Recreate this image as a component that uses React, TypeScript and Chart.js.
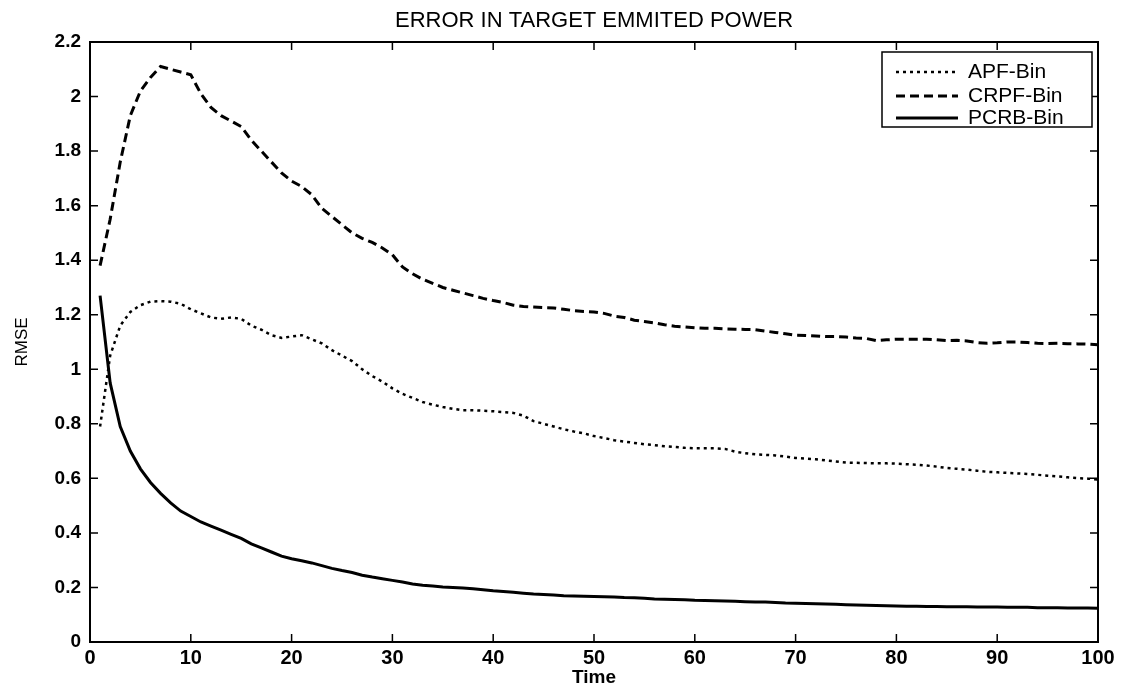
import React, { useEffect, useRef } from "react";
import { Chart, registerables } from "chart.js";

Chart.register(...registerables);

const TITLE = "ERROR IN TARGET EMMITED POWER";
const X_LABEL = "Time";
const Y_LABEL = "RMSE";
const xTicks = [0, 10, 20, 30, 40, 50, 60, 70, 80, 90, 100];
const yTicks = [0, 0.2, 0.4, 0.6, 0.8, 1, 1.2, 1.4, 1.6, 1.8, 2, 2.2];
const seriesLabels = ["APF-Bin", "CRPF-Bin", "PCRB-Bin"];

const times = Array.from({ length: 100 }, (_, i) => i + 1);

const apf = [
  0.79, 1.05, 1.16, 1.21, 1.235, 1.248, 1.25, 1.248, 1.24, 1.22,
  1.205, 1.19, 1.185, 1.19, 1.185, 1.16, 1.145, 1.125, 1.115, 1.12,
  1.125, 1.11, 1.095, 1.07, 1.05, 1.03, 1.0, 0.975, 0.955, 0.93,
  0.91, 0.895, 0.88, 0.87, 0.862, 0.855, 0.85, 0.85, 0.848, 0.846,
  0.843, 0.84, 0.83, 0.81, 0.8, 0.79, 0.78, 0.772, 0.765, 0.755,
  0.748, 0.74, 0.735, 0.73, 0.725, 0.722, 0.718, 0.715, 0.712, 0.71,
  0.71, 0.71, 0.708, 0.698, 0.692, 0.688, 0.686, 0.684, 0.68, 0.675,
  0.672, 0.67, 0.666, 0.662, 0.658, 0.657, 0.656, 0.655, 0.655, 0.654,
  0.652, 0.65, 0.647, 0.643, 0.638, 0.635, 0.632, 0.628, 0.624, 0.622,
  0.62, 0.618, 0.616, 0.613, 0.61, 0.607, 0.604, 0.601, 0.599, 0.596,
];

const crpf = [
  1.38, 1.55, 1.76, 1.93, 2.02, 2.07, 2.11, 2.1, 2.09, 2.08,
  2.01, 1.96, 1.93, 1.91, 1.89, 1.84, 1.8, 1.76, 1.72, 1.69,
  1.67, 1.64, 1.59, 1.56, 1.53, 1.5, 1.48, 1.465, 1.445, 1.42,
  1.375, 1.35, 1.33, 1.315, 1.3, 1.29, 1.28, 1.27, 1.26, 1.252,
  1.245, 1.235, 1.23, 1.228, 1.226, 1.225, 1.22, 1.215, 1.212, 1.21,
  1.205, 1.195, 1.19, 1.18, 1.175, 1.17, 1.163, 1.158, 1.155, 1.152,
  1.15, 1.15, 1.148, 1.147, 1.146, 1.145, 1.14, 1.135, 1.13, 1.125,
  1.124, 1.122, 1.12, 1.12, 1.118, 1.115, 1.113, 1.105, 1.108, 1.11,
  1.11, 1.11, 1.11, 1.108, 1.105, 1.106, 1.104, 1.098, 1.095, 1.097,
  1.1, 1.1, 1.098, 1.095, 1.094, 1.095, 1.094, 1.093, 1.092, 1.09,
];

const pcrb = [
  1.27, 0.95, 0.79, 0.7, 0.635, 0.585, 0.545, 0.51, 0.48, 0.46,
  0.44, 0.425, 0.41, 0.395, 0.38, 0.36, 0.345, 0.33, 0.315, 0.305,
  0.298, 0.29, 0.28, 0.27, 0.262, 0.255, 0.245, 0.238, 0.232, 0.226,
  0.22, 0.213, 0.208, 0.205, 0.202, 0.2, 0.198, 0.195, 0.192, 0.188,
  0.185, 0.182, 0.179, 0.176, 0.174, 0.172, 0.17, 0.169, 0.168, 0.167,
  0.166, 0.165, 0.163, 0.162, 0.16, 0.158, 0.157, 0.156, 0.155, 0.153,
  0.152, 0.151, 0.15, 0.149, 0.148, 0.147, 0.147, 0.145, 0.143, 0.142,
  0.141, 0.14, 0.139, 0.138, 0.137, 0.136, 0.135, 0.134, 0.133, 0.132,
  0.131, 0.131, 0.13, 0.13, 0.129, 0.129, 0.129, 0.128, 0.128, 0.128,
  0.127, 0.127, 0.127, 0.126, 0.126, 0.126, 0.125, 0.125, 0.125, 0.124,
];

const FONT = "'Liberation Sans', Arial, Helvetica, sans-serif";

const boxPlugin = {
  id: "matlabBox",
  afterDatasetsDraw(chart: any) {
    const { ctx, chartArea, scales } = chart;
    const { left, right, top, bottom } = chartArea;
    ctx.save();
    ctx.strokeStyle = "#000";
    ctx.lineWidth = 2;
    ctx.strokeRect(left, top, right - left, bottom - top);
    const tl = 8;
    ctx.lineWidth = 1.5;
    ctx.beginPath();
    for (const v of xTicks) {
      const px = scales.x.getPixelForValue(v);
      ctx.moveTo(px, bottom);
      ctx.lineTo(px, bottom - tl);
      ctx.moveTo(px, top);
      ctx.lineTo(px, top + tl);
    }
    for (const v of yTicks) {
      const py = scales.y.getPixelForValue(v);
      ctx.moveTo(left, py);
      ctx.lineTo(left + tl, py);
      ctx.moveTo(right, py);
      ctx.lineTo(right - tl, py);
    }
    ctx.stroke();

    // legend box inside the axes, top-right
    const bw = 210;
    const bh = 75;
    const bx = right - 6 - bw;
    const by = top + 10;
    ctx.fillStyle = "#fff";
    ctx.fillRect(bx, by, bw, bh);
    ctx.lineWidth = 1.5;
    ctx.strokeRect(bx, by, bw, bh);
    const rowsY = [by + 20, by + 44, by + 66];
    ctx.font = `21px ${FONT}`;
    ctx.textBaseline = "middle";
    ctx.textAlign = "left";
    chart.data.datasets.forEach((ds: any, i: number) => {
      const y = rowsY[i];
      ctx.save();
      ctx.strokeStyle = ds.borderColor;
      ctx.lineWidth = ds.borderWidth;
      ctx.setLineDash(ds.borderDash || []);
      ctx.beginPath();
      ctx.moveTo(bx + 14, y);
      ctx.lineTo(bx + 76, y);
      ctx.stroke();
      ctx.restore();
      ctx.fillStyle = "#000";
      ctx.fillText(ds.label, bx + 86, y);
    });
    ctx.restore();
  },
};

export default function App() {
  const canvasRef = useRef<HTMLCanvasElement | null>(null);

  useEffect(() => {
    if (!canvasRef.current) return;
    const toXY = (arr: number[]) => times.map((t, i) => ({ x: t, y: arr[i] }));
    const chart = new Chart(canvasRef.current, {
      type: "line",
      data: {
        datasets: [
          {
            label: seriesLabels[0],
            data: toXY(apf),
            borderColor: "#000",
            borderWidth: 2.5,
            borderDash: [3, 4],
            pointRadius: 0,
            tension: 0,
          },
          {
            label: seriesLabels[1],
            data: toXY(crpf),
            borderColor: "#000",
            borderWidth: 3,
            borderDash: [9, 5],
            pointRadius: 0,
            tension: 0,
          },
          {
            label: seriesLabels[2],
            data: toXY(pcrb),
            borderColor: "#000",
            borderWidth: 3,
            pointRadius: 0,
            tension: 0,
          },
        ],
      },
      options: {
        animation: false,
        responsive: false,
        maintainAspectRatio: false,
        layout: { padding: { left: 0, right: 26, top: 0, bottom: 0 } },
        plugins: {
          legend: { display: false },
          tooltip: { enabled: false },
          title: {
            display: true,
            text: TITLE,
            fullSize: false,
            color: "#000",
            font: { family: FONT, size: 22, weight: "normal", lineHeight: 1.2 },
            padding: { top: 8, bottom: 7.6 },
          },
        },
        scales: {
          x: {
            type: "linear",
            min: 0,
            max: 100,
            grid: { display: false, drawTicks: false },
            border: { display: false },
            afterBuildTicks: (s: any) => {
              s.ticks = xTicks.map((v) => ({ value: v }));
            },
            afterFit: (s: any) => {
              s.height = 47;
            },
            ticks: {
              color: "#000",
              padding: 4,
              maxRotation: 0,
              autoSkip: false,
              font: { family: FONT, size: 20, weight: "bold" },
              callback: (v: any) => String(v),
            },
            title: {
              display: true,
              text: X_LABEL,
              color: "#000",
              font: { family: FONT, size: 19, weight: "bold", lineHeight: 1.2 },
              padding: { top: 0, bottom: 0 },
            },
          },
          y: {
            type: "linear",
            min: 0,
            max: 2.2,
            grid: { display: false, drawTicks: false },
            border: { display: false },
            afterBuildTicks: (s: any) => {
              s.ticks = yTicks.map((v) => ({ value: v }));
            },
            afterFit: (s: any) => {
              s.width = 90;
            },
            ticks: {
              color: "#000",
              padding: 9,
              autoSkip: false,
              font: { family: FONT, size: 19, weight: "bold" },
              callback: (v: any) => String(Math.round(Number(v) * 10) / 10),
            },
            title: {
              display: true,
              text: Y_LABEL,
              color: "#000",
              font: { family: FONT, size: 17, weight: "normal", lineHeight: 1.2 },
              padding: { top: 12, bottom: 0 },
            },
          },
        },
      },
      plugins: [boxPlugin],
    } as any);
    return () => chart.destroy();
  }, []);

  return (
    <div style={{ position: "absolute", left: 0, top: 0, width: 1124, height: 689, background: "#fff" }}>
      <canvas ref={canvasRef} width={1124} height={689} style={{ width: 1124, height: 689, display: "block" }} />
    </div>
  );
}
